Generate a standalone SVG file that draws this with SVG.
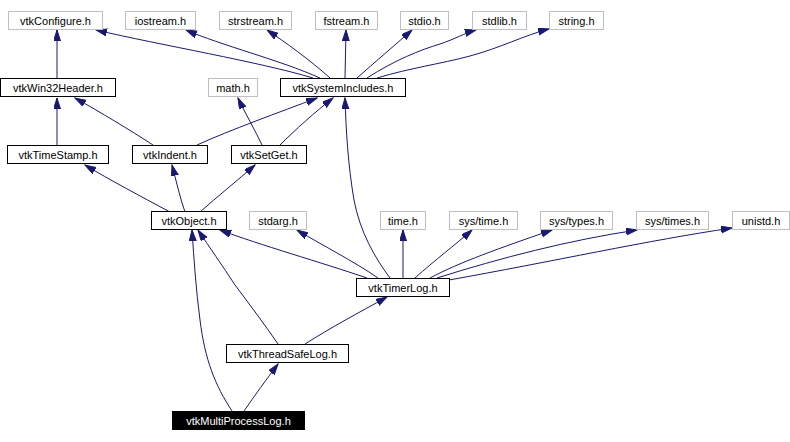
<svg xmlns="http://www.w3.org/2000/svg" width="790" height="442" viewBox="0 0 790 442">
<style>
rect.n{fill:#ffffff;stroke:#000000;stroke-width:1}
rect.g{fill:#ffffff;stroke:#bfbfbf;stroke-width:1}
rect.b{fill:#000000;stroke:#000000;stroke-width:1}
text{font-family:"Liberation Sans",Arial,sans-serif;font-size:11px;text-anchor:middle;fill:#000000}
text.w{fill:#ffffff}
#edges path{fill:none;stroke:#191970;stroke-width:1;marker-end:url(#ah)}
</style>
<defs>
<marker id="ah" markerUnits="userSpaceOnUse" markerWidth="12" markerHeight="8" refX="11" refY="3.5" orient="auto">
<path d="M0,0 L11,3.5 L0,7 z" fill="#191970" stroke="#191970" stroke-width="1"/>
</marker>
</defs>
<rect width="790" height="442" fill="#ffffff"/>
<g id="edges">
<path d="M57,78 L57,30"/>
<path d="M313,78 C260,62 160,45 96,30"/>
<path d="M320,78 C280,60 220,45 186,30"/>
<path d="M330,78 C310,60 285,42 267,30"/>
<path d="M345,78 L346,30"/>
<path d="M357,78 C375,62 395,45 412,30"/>
<path d="M367,78 C395,60 420,50 440,44 C455,39 465,33 476,30"/>
<path d="M377,78 C410,68 440,64 470,56 C500,48 525,35 549,29"/>
<path d="M57,145 L57,98"/>
<path d="M153,145 C130,130 100,112 75,98"/>
<path d="M197,145 C230,130 280,112 317,98"/>
<path d="M262,145 C255,130 245,113 238,98"/>
<path d="M280,145 C295,130 315,112 333,98"/>
<path d="M390,278 C375,258 360,232 354,200 C348,165 346,130 345,98"/>
<path d="M170,212 C140,196 110,180 85,165"/>
<path d="M185,212 C180,198 176,180 172,165"/>
<path d="M200,212 C218,196 238,180 255,165"/>
<path d="M367,278 C320,262 260,245 220,230"/>
<path d="M378,278 C355,262 320,244 297,230"/>
<path d="M403,278 L403,230"/>
<path d="M415,278 C435,260 455,245 472,230"/>
<path d="M430,278 C460,262 500,248 552,230"/>
<path d="M437,278 C500,258 570,240 637,230"/>
<path d="M449,280 C550,262 650,240 732,228"/>
<path d="M278,344 C265,325 250,305 235,285 C222,265 210,248 198,230"/>
<path d="M305,344 C330,328 360,312 387,297"/>
<path d="M232,411 C215,385 205,360 200,320 C196,290 194,260 192,230"/>
<path d="M244,411 C255,395 266,380 278,364"/>
</g>
<g id="vtkConfigure"><rect class="g" x="8.5" y="11.5" width="94" height="18"/><text x="55.5" y="25">vtkConfigure.h</text></g>
<g id="iostream"><rect class="g" x="125.5" y="11.5" width="70" height="18"/><text x="160.5" y="25">iostream.h</text></g>
<g id="strstream"><rect class="g" x="219.5" y="11.5" width="72" height="18"/><text x="255.5" y="25">strstream.h</text></g>
<g id="fstream"><rect class="g" x="315.5" y="11.5" width="62" height="18"/><text x="346.5" y="25">fstream.h</text></g>
<g id="stdio"><rect class="g" x="400.5" y="11.5" width="48" height="18"/><text x="424.5" y="25">stdio.h</text></g>
<g id="stdlib"><rect class="g" x="472.5" y="11.5" width="54" height="18"/><text x="499.5" y="25">stdlib.h</text></g>
<g id="string"><rect class="g" x="549.5" y="11.5" width="54" height="18"/><text x="576.5" y="25">string.h</text></g>
<g id="vtkWin32Header"><rect class="n" x="0.5" y="78.5" width="115" height="18"/><text x="58" y="92">vtkWin32Header.h</text></g>
<g id="math"><rect class="g" x="208.5" y="78.5" width="49" height="18"/><text x="233" y="92">math.h</text></g>
<g id="vtkSystemIncludes"><rect class="n" x="280.5" y="78.5" width="125" height="18"/><text x="343" y="92">vtkSystemIncludes.h</text></g>
<g id="vtkTimeStamp"><rect class="n" x="7.5" y="145.5" width="101" height="18"/><text x="58" y="159">vtkTimeStamp.h</text></g>
<g id="vtkIndent"><rect class="n" x="132.5" y="145.5" width="75" height="18"/><text x="170" y="159">vtkIndent.h</text></g>
<g id="vtkSetGet"><rect class="n" x="231.5" y="145.5" width="75" height="18"/><text x="269" y="159">vtkSetGet.h</text></g>
<g id="vtkObject"><rect class="n" x="151.5" y="211.5" width="75" height="18"/><text x="189" y="225">vtkObject.h</text></g>
<g id="stdarg"><rect class="g" x="249.5" y="211.5" width="57" height="18"/><text x="278" y="225">stdarg.h</text></g>
<g id="time"><rect class="g" x="380.5" y="211.5" width="45" height="18"/><text x="403" y="225">time.h</text></g>
<g id="systime"><rect class="g" x="449.5" y="211.5" width="68" height="18"/><text x="483.5" y="225">sys/time.h</text></g>
<g id="systypes"><rect class="g" x="540.5" y="211.5" width="72" height="18"/><text x="576.5" y="225">sys/types.h</text></g>
<g id="systimes"><rect class="g" x="636.5" y="211.5" width="72" height="18"/><text x="672.5" y="225">sys/times.h</text></g>
<g id="unistd"><rect class="g" x="732.5" y="211.5" width="57" height="18"/><text x="761" y="225">unistd.h</text></g>
<g id="vtkTimerLog"><rect class="n" x="356.5" y="278.5" width="93" height="18"/><text x="403" y="292">vtkTimerLog.h</text></g>
<g id="vtkThreadSafeLog"><rect class="n" x="226.5" y="344.5" width="122" height="18"/><text x="287.5" y="358">vtkThreadSafeLog.h</text></g>
<g id="vtkMultiProcessLog"><rect class="b" x="172.5" y="411.5" width="132" height="18"/><text class="w" x="238.5" y="425">vtkMultiProcessLog.h</text></g>
</svg>
